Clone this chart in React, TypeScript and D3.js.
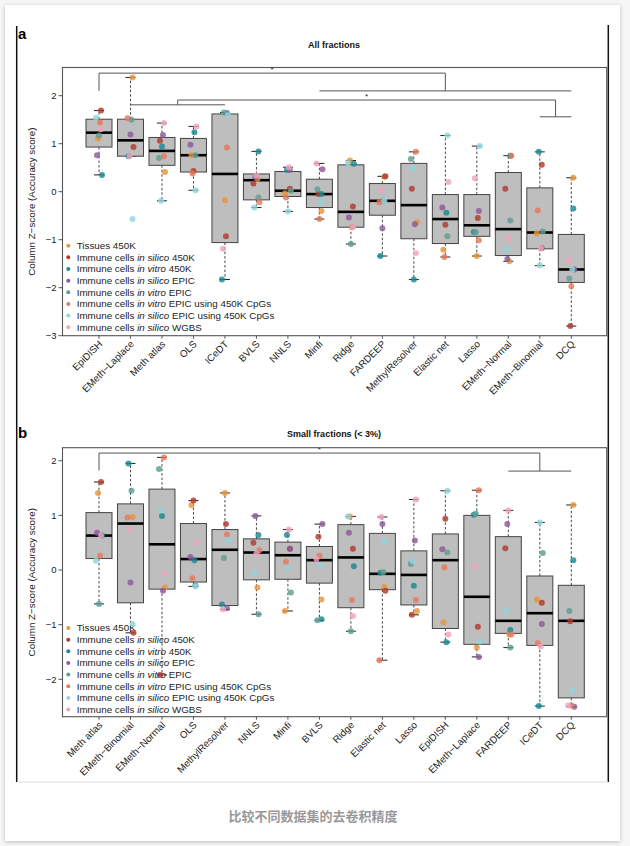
import React from "react";
import * as d3 from "d3";

// ---------- Data ----------
const catsA = ["EpiDISH", "EMeth\u2212Laplace", "Meth atlas", "OLS", "ICeDT", "BVLS", "NNLS", "Minfi", "Ridge", "FARDEEP", "MethylResolver", "Elastic net", "Lasso", "EMeth\u2212Normal", "EMeth\u2212Binomial", "DCQ"];
const q3A = [1.51, 1.51, 1.13, 1.11, 1.62, 0.37, 0.42, 0.26, 0.56, 0.17, 0.59, -0.06, -0.06, 0.40, 0.08, -0.89];
const medA = [1.23, 1.07, 0.85, 0.76, 0.37, 0.24, 0.02, -0.05, -0.42, -0.19, -0.28, -0.57, -0.70, -0.78, -0.85, -1.62];
const q1A = [0.93, 0.74, 0.55, 0.41, -1.06, -0.17, -0.10, -0.33, -0.74, -0.49, -0.98, -1.08, -0.93, -1.33, -1.19, -1.89];
const hiA = [1.69, 2.38, 1.43, 1.36, 1.65, 0.84, 0.51, 0.59, 0.65, 0.32, 0.83, 1.17, 0.95, 0.75, 0.83, 0.29];
const loA = [0.35, 0.74, -0.19, 0.03, -1.83, -0.33, -0.41, -0.57, -1.09, -1.34, -1.83, -1.36, -1.34, -1.45, -1.54, -2.80];

const tissuesA = [1.11, 2.38, 0.41, 0.76, -0.18, 0.27, -0.03, -0.40, 0.65, 0.31, -0.63, -1.21, -1.34, -1.45, -0.87, 0.29];
const silico450A = [1.69, 0.93, 1.06, 0.43, -0.93, 0.17, 0.06, -0.05, -0.31, 0.32, 0.06, -0.69, -0.55, 0.06, 0.56, -2.80];
const vitro450A = [0.35, 0.74, 0.94, 1.24, -1.83, 0.84, 0.45, -0.05, 0.58, -1.34, -1.83, -0.44, -0.84, 0.75, 0.83, -0.35];
const silicoEpicA = [0.76, 1.19, 1.18, 0.98, 1.64, 0.31, 0.45, 0.47, -0.54, -0.76, -0.68, -0.33, -0.40, -1.40, -1.18, -1.62];
const vitroEpicA = [1.17, 1.50, 0.70, 0.76, 1.65, -0.12, 0.02, 0.05, -1.09, -0.19, 0.68, -0.93, -0.84, -0.60, -0.83, -1.81];
const vitroEpic450A = [1.44, 1.53, 0.74, 0.38, 0.92, -0.22, -0.12, -0.57, -0.74, -0.22, 0.83, -1.36, -1.01, 0.75, -0.39, -1.97];
const silicoEpic450A = [1.54, -0.57, -0.19, 0.03, 1.60, -0.33, -0.41, -0.23, 0.60, -0.19, 0.49, 1.17, 0.95, -1.21, -1.54, -1.62];
const wgbsA = [1.30, 0.74, 1.43, 1.36, -1.19, 0.34, 0.51, 0.59, -0.74, 0.04, -1.28, 0.20, 0.28, -0.98, -1.18, -1.43];

const catsB = ["Meth atlas", "EMeth\u2212Binomial", "EMeth\u2212Normal", "OLS", "MethylResolver", "NNLS", "Minfi", "BVLS", "Ridge", "Elastic net", "Lasso", "EpiDISH", "EMeth\u2212Laplace", "FARDEEP", "ICeDT", "DCQ"];
const q3B = [1.05, 1.21, 1.48, 0.85, 0.74, 0.57, 0.51, 0.43, 0.83, 0.67, 0.35, 0.66, 1.00, 0.61, -0.11, -0.28];
const medB = [0.63, 0.85, 0.47, 0.20, 0.37, 0.32, 0.27, 0.18, 0.23, -0.07, -0.09, 0.18, -0.49, -0.93, -0.79, -0.93];
const q1B = [0.21, -0.60, -0.35, -0.22, -0.65, -0.18, -0.17, -0.24, -0.69, -0.36, -0.64, -1.07, -1.36, -1.16, -1.38, -2.34];
const hiB = [1.61, 1.95, 2.06, 1.27, 1.41, 0.99, 0.74, 0.84, 0.98, 0.97, 1.29, 1.45, 1.46, 1.09, 0.87, 1.19];
const loB = [-0.62, -1.15, -1.92, -0.30, -0.72, -0.81, -0.75, -0.92, -1.12, -1.65, -0.82, -1.32, -1.59, -1.42, -2.49, -2.50];

const tissuesB = [1.41, 0.97, -0.32, 1.19, 1.41, -0.32, -0.75, -0.54, 0.98, -0.31, -0.75, -0.96, -1.42, -1.18, -0.54, 1.19];
const silico450B = [1.61, -1.15, -1.92, 1.27, 0.84, 0.50, 0.39, 0.61, 0.39, -0.38, -0.82, 0.94, -1.04, 0.40, -0.60, -0.94];
const vitro450B = [0.63, 1.95, 0.99, 0.18, -0.63, 0.64, 0.64, -0.90, 0.07, -0.05, -0.29, -1.32, 1.01, -1.10, -2.49, 0.18];
const silicoEpicB = [0.68, -0.23, -0.38, 0.24, -0.70, 0.99, 0.39, 0.84, 0.68, 0.84, 0.54, 0.38, -1.59, 0.84, -0.99, -2.50];
const vitroEpicB = [-0.62, 1.45, 1.85, -0.28, 0.22, -0.81, -0.41, -0.92, -1.12, -0.04, 0.11, 0.32, 1.03, -1.42, 0.31, -0.75];
const vitroEpic450B = [0.26, 0.96, 2.06, -0.15, 0.65, 0.36, 0.15, 0.26, -0.55, -1.65, -0.55, 0.05, 1.46, -1.18, -1.34, -2.48];
const silicoEpic450B = [0.17, -0.99, 1.09, -0.30, 0.55, -0.06, 0.05, 0.08, 0.98, 0.52, 0.16, 1.45, -1.31, -0.75, 0.87, -2.20];
const wgbsB = [0.63, 0.74, -0.06, 0.50, -0.72, 0.30, 0.74, 0.20, -0.84, 0.97, 1.29, -1.18, 0.07, 1.09, -1.40, -2.48];

const seriesColors = ["#E8953A", "#B23A2E", "#1A8A93", "#8B5A9B", "#5E9E94", "#E8795C", "#8FD6DC", "#F0A4BE"];
const legendPre = ["Tissues 450K", "Immune cells ", "Immune cells ", "Immune cells ", "Immune cells ", "Immune cells ", "Immune cells ", "Immune cells "];
const legendItal = ["", "in silico", "in vitro", "in silico", "in vitro", "in vitro", "in silico", "in silico"];
const legendPost = ["", " 450K", " 450K", " EPIC", " EPIC", " EPIC using 450K CpGs", " EPIC using 450K CpGs", " WGBS"];

const ticksA = [-3, -2, -1, 0, 1, 2];
const ticksB = [-2, -1, 0, 1, 2];

// significance brackets (category names, levels in data units)
const bracketsA = [
  { left: ["EpiDISH", "EpiDISH"], right: ["Minfi", "DCQ"], top: 2.47, leftLow: 2.10, rightLow: 2.10 },
  { left: ["EMeth\u2212Laplace", "ICeDT"], right: ["EMeth\u2212Binomial", "DCQ"], top: 1.91, leftLow: 1.81, rightLow: 1.56 },
];
const bracketsB = [
  { left: ["Meth atlas", "Meth atlas"], right: ["FARDEEP", "DCQ"], top: 2.14, leftLow: 1.82, rightLow: 1.81 },
];

const FONT = "'Liberation Sans', Arial, Helvetica, sans-serif";
const jitter = [-1, 2, 3, -2, 0, 1, -3, 2];

function Panel(props: any) {
  const { cats, q1, med, q3, lo, hi, pts, y, top, bottom, ticks, brackets, title, titleY, letter, letterY, legendY } = props;
  const left = 62.5, right = 606.7;
  const x = d3.scalePoint<string>().domain(cats).range([99, 571.3]);
  const bw = 26, cw = 10;
  const ink = "#333";
  return (
    <g>
      <text x={18} y={letterY} fontFamily={FONT} fontWeight="bold" fontSize={15} fill="#000">{letter}</text>
      <text x={334} y={titleY} fontFamily={FONT} fontWeight="bold" fontSize={9} textAnchor="middle" fill="#111">{title}</text>
      {/* legend */}
      <g fontFamily={FONT} fontSize={9.8} fill="#222">
        {seriesColors.map((c, j) => (
          <g key={j}>
            <circle cx={68.3} cy={legendY + j * 11.65} r={2} fill={c} />
            <text x={76.7} y={legendY + j * 11.65 + 3.4}>
              {legendPre[j]}
              {legendItal[j] ? <tspan fontStyle="italic">{legendItal[j]}</tspan> : null}
              {legendPost[j]}
            </text>
          </g>
        ))}
      </g>
      {/* boxes */}
      {cats.map((c: string, i: number) => {
        const cx = x(c)!;
        return (
          <g key={c}>
            <line x1={cx} x2={cx} y1={y(q3[i])} y2={y(hi[i])} stroke={ink} strokeWidth={0.9} strokeDasharray="2.5,2" />
            <line x1={cx} x2={cx} y1={y(q1[i])} y2={y(lo[i])} stroke={ink} strokeWidth={0.9} strokeDasharray="2.5,2" />
            <line x1={cx - cw / 2} x2={cx + cw / 2} y1={y(hi[i])} y2={y(hi[i])} stroke="#222" strokeWidth={1} />
            <line x1={cx - cw / 2} x2={cx + cw / 2} y1={y(lo[i])} y2={y(lo[i])} stroke="#222" strokeWidth={1} />
            <rect x={cx - bw / 2} y={y(q3[i])} width={bw} height={y(q1[i]) - y(q3[i])} fill="#BEBEBE" stroke="#444" strokeWidth={1} />
            <line x1={cx - bw / 2} x2={cx + bw / 2} y1={y(med[i])} y2={y(med[i])} stroke="#000" strokeWidth={2.6} />
          </g>
        );
      })}
      {/* points */}
      {pts.map((arr: number[], j: number) =>
        arr.map((v: number, i: number) => (
          <circle key={j + "-" + i} cx={x(cats[i])! + jitter[(j + i) % 8]} cy={y(v)} r={3} fill={seriesColors[j]} fillOpacity={0.82} />
        ))
      )}
      {/* brackets */}
      {brackets.map((b: any, k: number) => {
        const lx1 = x(b.left[0])!, lx2 = x(b.left[1])!, rx1 = x(b.right[0])!, rx2 = x(b.right[1])!;
        const lm = (lx1 + lx2) / 2, rm = (rx1 + rx2) / 2;
        return (
          <g key={k} stroke="#555" strokeWidth={1} fill="none">
            {lx1 !== lx2 ? <line x1={lx1} x2={lx2} y1={y(b.leftLow)} y2={y(b.leftLow)} /> : null}
            <line x1={rx1} x2={rx2} y1={y(b.rightLow)} y2={y(b.rightLow)} />
            <path d={`M${lm},${y(b.leftLow)}V${y(b.top)}H${rm}V${y(b.rightLow)}`} />
            <text x={(lm + rm) / 2} y={y(b.top) - 1.5} stroke="none" fill="#222" fontFamily={FONT} fontSize={8} textAnchor="middle">*</text>
          </g>
        );
      })}
      {/* panel border */}
      <rect x={left} y={top} width={right - left} height={bottom - top} fill="none" stroke="#555" strokeWidth={1.1} />
      {/* y axis */}
      <g fontFamily={FONT} fontSize={9.5} fill="#222">
        {ticks.map((t: number) => (
          <g key={t}>
            <line x1={left - 4} x2={left} y1={y(t)} y2={y(t)} stroke="#555" strokeWidth={1} />
            <text x={left - 6} y={y(t) + 3.3} textAnchor="end">{t < 0 ? "\u2212" + Math.abs(t) : String(t)}</text>
          </g>
        ))}
        <text transform={`translate(35,${(top + bottom) / 2}) rotate(-90)`} textAnchor="middle" fontSize={9.8}>Column Z{"\u2212"}score (Accuracy score)</text>
      </g>
      {/* x axis */}
      <g fontFamily={FONT} fontSize={9.8} fill="#222">
        {cats.map((c: string) => (
          <g key={c}>
            <line x1={x(c)} x2={x(c)} y1={bottom} y2={bottom + 3} stroke="#555" strokeWidth={1} />
            <text transform={`translate(${x(c)! + 4},${bottom + 9}) rotate(-45)`} textAnchor="end">{c}</text>
          </g>
        ))}
      </g>
    </g>
  );
}

export default function App() {
  const yA = d3.scaleLinear().domain([-3, 2]).range([335.7, 95.7]);
  const yB = d3.scaleLinear().domain([-2, 2]).range([679.3, 460.7]);
  const ptsA = [tissuesA, silico450A, vitro450A, silicoEpicA, vitroEpicA, vitroEpic450A, silicoEpic450A, wgbsA];
  const ptsB = [tissuesB, silico450B, vitro450B, silicoEpicB, vitroEpicB, vitroEpic450B, silicoEpic450B, wgbsB];
  return (
    <svg width={630} height={846} style={{ position: "absolute", left: 0, top: 0, background: "#f7f7f7" }}>
      <defs>
        <filter id="sh" x="-5%" y="-5%" width="110%" height="110%">
          <feDropShadow dx="0" dy="1" stdDeviation="2" floodColor="#000" floodOpacity="0.25" />
        </filter>
      </defs>
      <rect x={5} y={5} width={615} height={836} fill="#fff" filter="url(#sh)" />
      <line x1={16.7} x2={16.7} y1={26} y2={782} stroke="#111" strokeWidth={1.5} />
      <line x1={608.3} x2={608.3} y1={25} y2={782} stroke="#111" strokeWidth={1.5} />
      <line x1={17} x2={608} y1={782} y2={782} stroke="#ddd" strokeWidth={1} />
      <Panel cats={catsA} q1={q1A} med={medA} q3={q3A} lo={loA} hi={hiA} pts={ptsA} y={yA}
        top={67.5} bottom={335.7} ticks={ticksA} brackets={bracketsA}
        title="All fractions" titleY={48} letter="a" letterY={39} legendY={245.7} />
      <Panel cats={catsB} q1={q1B} med={medB} q3={q3B} lo={loB} hi={hiB} pts={ptsB} y={yB}
        top={447.7} bottom={716.7} ticks={ticksB} brackets={bracketsB}
        title="Small fractions (< 3%)" titleY={437} letter="b" letterY={438} legendY={628} />
      <text x={313} y={821} textAnchor="middle" fontFamily="'Noto Sans CJK SC', sans-serif" fontWeight="bold" fontSize={13} fill="#999">比较不同数据集的去卷积精度</text>
    </svg>
  );
}
